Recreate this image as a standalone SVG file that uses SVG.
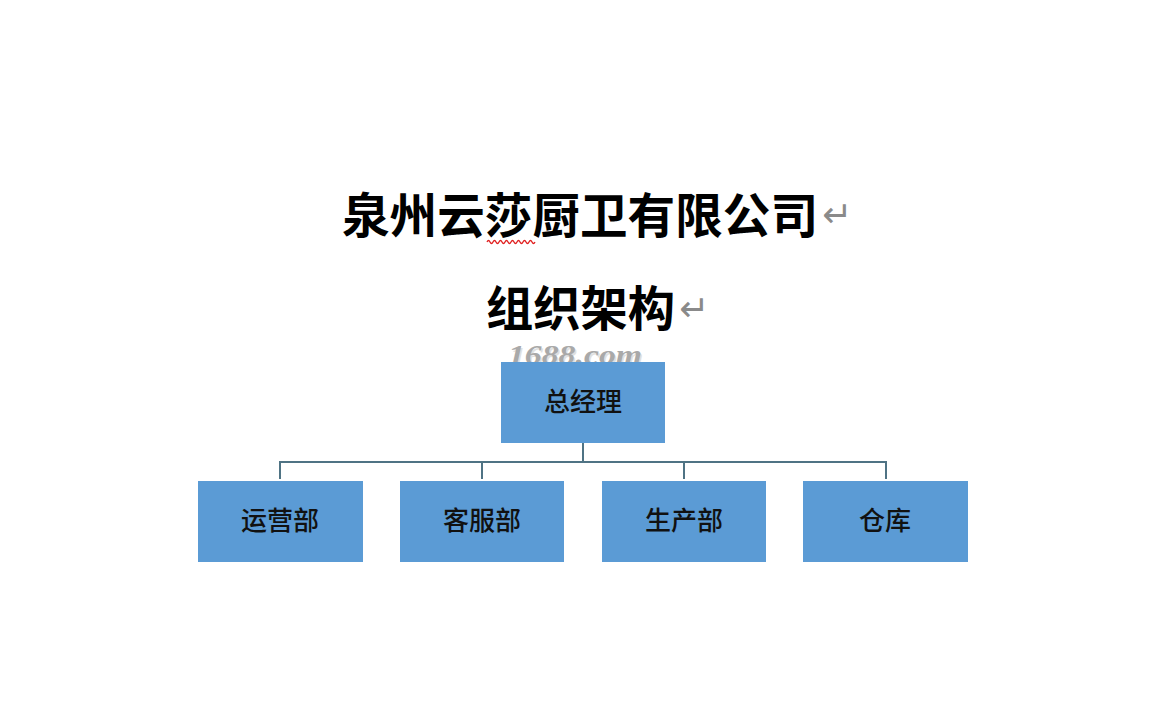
<svg xmlns="http://www.w3.org/2000/svg" width="1149" height="708" viewBox="0 0 1149 708">
<style>
.title{font-family:"Noto Sans CJK SC","Noto Sans",sans-serif;font-weight:bold;font-size:48px;fill:#000}
.ret{font-family:"DejaVu Sans",sans-serif;font-size:36px;fill:#8a8a8a}
.box{fill:#5b9bd5}
.lbl{font-family:"Noto Sans CJK SC",serif;font-size:26px;fill:#111;text-anchor:middle;font-weight:500}
.wm{font-family:"Liberation Serif",serif;font-style:italic;font-weight:bold;font-size:28px;fill:#a9a9a9}
.conn{stroke:#4f7384;stroke-width:2;fill:none}
</style>
<rect width="1149" height="708" fill="#ffffff"/>
<g id="title">
<text class="title" x="342" y="233" textLength="476" lengthAdjust="spacingAndGlyphs">泉州云莎厨卫有限公司</text>
<text class="ret" x="822" y="227">↵</text>
<path d="M487 242 q1.5 -3 3 0 t3 0 t3 0 t3 0 t3 0 t3 0 t3 0 t3 0 t3 0 t3 0 t3 0 t3 0 t3 0 t3 0 t3 0 t3 0" fill="none" stroke="#e02020" stroke-width="1.3"/>
<text class="title" x="486" y="326" textLength="189" lengthAdjust="spacingAndGlyphs">组织架构</text>
<text class="ret" x="679" y="321">↵</text>
</g>
<g id="watermark">
<text class="wm" x="508" y="364" textLength="134" lengthAdjust="spacingAndGlyphs" fill="#555" opacity="0.35" transform="translate(1.5,1.5)">1688.com</text>
<text class="wm" x="508" y="364" textLength="134" lengthAdjust="spacingAndGlyphs">1688.com</text>
</g>
<g id="connectors">
<path class="conn" d="M583 443 V462 M280 462 H886 M280 461 V479 M482 461 V479 M684 461 V479 M886 461 V479"/>
</g>
<g id="n-gm"><rect class="box" x="501" y="362" width="164" height="81"/><text class="lbl" x="583" y="411">总经理</text></g>
<g id="n-ops"><rect class="box" x="198" y="481" width="165" height="81"/><text class="lbl" x="280" y="530">运营部</text></g>
<g id="n-cs"><rect class="box" x="400" y="481" width="164" height="81"/><text class="lbl" x="482" y="530">客服部</text></g>
<g id="n-prod"><rect class="box" x="602" y="481" width="164" height="81"/><text class="lbl" x="684" y="530">生产部</text></g>
<g id="n-wh"><rect class="box" x="803" y="481" width="165" height="81"/><text class="lbl" x="885" y="530">仓库</text></g>
</svg>
